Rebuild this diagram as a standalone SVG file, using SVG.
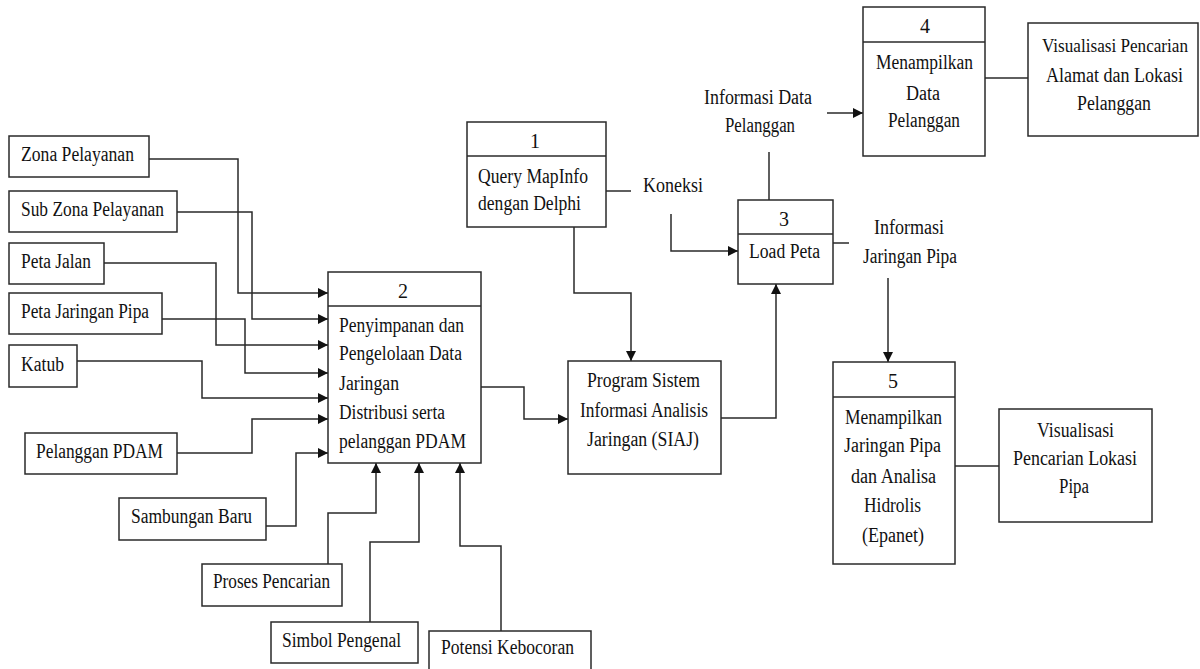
<svg xmlns="http://www.w3.org/2000/svg" width="1200" height="669" viewBox="0 0 1200 669">
<style>
.b{fill:#fff;stroke:#2a2a2a;stroke-width:1.5}
.d{stroke:#2a2a2a;stroke-width:1.5;fill:none}
.c path{fill:none;stroke:#2a2a2a;stroke-width:1.5}
text{font-family:"Liberation Serif","Times New Roman",serif;font-size:20px;fill:#111}
.m{text-anchor:middle}
</style>
<defs>
<marker id="ah" viewBox="0 0 10 10" refX="10" refY="5" markerWidth="10" markerHeight="10" markerUnits="userSpaceOnUse" orient="auto"><path d="M0,0 L10,5 L0,10 z" fill="#111"/></marker>
</defs>
<rect width="1200" height="669" fill="#fff"/>
<g class="c" id="connectors">
<path d="M149,159 H238 V293 H328" marker-end="url(#ah)"/>
<path d="M177,212 H252 V319 H328" marker-end="url(#ah)"/>
<path d="M104,263 H216 V345 H328" marker-end="url(#ah)"/>
<path d="M162,319 H245 V373 H328" marker-end="url(#ah)"/>
<path d="M77,361 H202 V398 H328" marker-end="url(#ah)"/>
<path d="M177,453 H252 V419 H328" marker-end="url(#ah)"/>
<path d="M266,526 H296 V453 H328" marker-end="url(#ah)"/>
<path d="M328,564 V513 H376 V463" marker-end="url(#ah)"/>
<path d="M370,622 V542 H419 V463" marker-end="url(#ah)"/>
<path d="M501,631 V546 H460 V463" marker-end="url(#ah)"/>
<path d="M481,387 H524 V419 H568" marker-end="url(#ah)"/>
<path d="M574,227 V293 H631 V361" marker-end="url(#ah)"/>
<path d="M721,418 H776 V284" marker-end="url(#ah)"/>
<path d="M606,191 H631"/>
<path d="M671,214 V251 H738" marker-end="url(#ah)"/>
<path d="M769,200 V152"/>
<path d="M827,113 H863" marker-end="url(#ah)"/>
<path d="M985,78 H1028"/>
<path d="M833,243 H849"/>
<path d="M888,278 V362" marker-end="url(#ah)"/>
<path d="M955,466 H999"/>
</g>
<g id="zona"><rect class="b" x="9" y="136" width="140" height="41"/><text x="21" y="161" textLength="113" lengthAdjust="spacingAndGlyphs">Zona Pelayanan</text></g>
<g id="subzona"><rect class="b" x="9" y="191" width="168" height="41"/><text x="21" y="216" textLength="143" lengthAdjust="spacingAndGlyphs">Sub Zona Pelayanan</text></g>
<g id="petajalan"><rect class="b" x="9" y="243" width="95" height="41"/><text x="21" y="268" textLength="70" lengthAdjust="spacingAndGlyphs">Peta Jalan</text></g>
<g id="petapipa"><rect class="b" x="9" y="293" width="153" height="41"/><text x="21" y="318" textLength="128" lengthAdjust="spacingAndGlyphs">Peta Jaringan Pipa</text></g>
<g id="katub"><rect class="b" x="9" y="345" width="68" height="42"/><text x="21" y="371" textLength="43" lengthAdjust="spacingAndGlyphs">Katub</text></g>
<g id="pelangganpdam"><rect class="b" x="25" y="433" width="152" height="41"/><text x="36" y="458" textLength="127" lengthAdjust="spacingAndGlyphs">Pelanggan PDAM</text></g>
<g id="sambungan"><rect class="b" x="119" y="498" width="147" height="42"/><text x="131" y="523" textLength="121" lengthAdjust="spacingAndGlyphs">Sambungan Baru</text></g>
<g id="proses"><rect class="b" x="202" y="564" width="140" height="42"/><text x="213" y="588" textLength="117" lengthAdjust="spacingAndGlyphs">Proses Pencarian</text></g>
<g id="simbol"><rect class="b" x="271" y="622" width="147" height="41"/><text x="282" y="647" textLength="119" lengthAdjust="spacingAndGlyphs">Simbol Pengenal</text></g>
<g id="potensi"><rect class="b" x="429" y="631" width="162" height="41"/><text x="441" y="654" textLength="133" lengthAdjust="spacingAndGlyphs">Potensi Kebocoran</text></g>
<g id="p2"><rect class="b" x="328" y="272" width="153" height="191"/><path class="d" d="M328,306 H481"/>
<text class="m" x="403" y="298">2</text>
<text x="339" y="332" textLength="125" lengthAdjust="spacingAndGlyphs">Penyimpanan dan</text>
<text x="339" y="360" textLength="123" lengthAdjust="spacingAndGlyphs">Pengelolaan Data</text>
<text x="339" y="390" textLength="60" lengthAdjust="spacingAndGlyphs">Jaringan</text>
<text x="339" y="419" textLength="106" lengthAdjust="spacingAndGlyphs">Distribusi serta</text>
<text x="339" y="448" textLength="127" lengthAdjust="spacingAndGlyphs">pelanggan PDAM</text></g>
<g id="p1"><rect class="b" x="467" y="122" width="139" height="105"/><path class="d" d="M467,156 H606"/>
<text class="m" x="535" y="148">1</text>
<text x="478" y="183" textLength="110" lengthAdjust="spacingAndGlyphs">Query MapInfo</text>
<text x="478" y="210" textLength="103" lengthAdjust="spacingAndGlyphs">dengan Delphi</text></g>
<g id="koneksi"><text x="643" y="192" textLength="60" lengthAdjust="spacingAndGlyphs">Koneksi</text></g>
<g id="siaj"><rect class="b" x="568" y="361" width="153" height="113"/>
<text x="587" y="387" textLength="113" lengthAdjust="spacingAndGlyphs">Program Sistem</text>
<text x="580" y="417" textLength="128" lengthAdjust="spacingAndGlyphs">Informasi Analisis</text>
<text x="587" y="446" textLength="112" lengthAdjust="spacingAndGlyphs">Jaringan (SIAJ)</text></g>
<g id="p3"><rect class="b" x="738" y="200" width="95" height="84"/><path class="d" d="M738,234 H833"/>
<text class="m" x="784" y="226">3</text>
<text x="749" y="258" textLength="71" lengthAdjust="spacingAndGlyphs">Load Peta</text></g>
<g id="infodata"><text x="704" y="104" textLength="108" lengthAdjust="spacingAndGlyphs">Informasi Data</text>
<text x="725" y="132" textLength="70" lengthAdjust="spacingAndGlyphs">Pelanggan</text></g>
<g id="p4"><rect class="b" x="863" y="7" width="122" height="149"/><path class="d" d="M863,42 H985"/>
<text class="m" x="925" y="33">4</text>
<text x="876" y="69" textLength="97" lengthAdjust="spacingAndGlyphs">Menampilkan</text>
<text x="906" y="100" textLength="34" lengthAdjust="spacingAndGlyphs">Data</text>
<text x="888" y="127" textLength="72" lengthAdjust="spacingAndGlyphs">Pelanggan</text></g>
<g id="vis1"><rect class="b" x="1028" y="23" width="170" height="113"/>
<text x="1042" y="52" style="font-size:18px" textLength="146" lengthAdjust="spacingAndGlyphs">Visualisasi Pencarian</text>
<text x="1046" y="82" textLength="137" lengthAdjust="spacingAndGlyphs">Alamat dan Lokasi</text>
<text x="1077" y="110" textLength="74" lengthAdjust="spacingAndGlyphs">Pelanggan</text></g>
<g id="infopipa"><text x="874" y="234" textLength="70" lengthAdjust="spacingAndGlyphs">Informasi</text>
<text x="863" y="263" textLength="94" lengthAdjust="spacingAndGlyphs">Jaringan Pipa</text></g>
<g id="p5"><rect class="b" x="833" y="362" width="122" height="202"/><path class="d" d="M833,397 H955"/>
<text class="m" x="893" y="388">5</text>
<text x="845" y="424" textLength="97" lengthAdjust="spacingAndGlyphs">Menampilkan</text>
<text x="844" y="452" textLength="97" lengthAdjust="spacingAndGlyphs">Jaringan Pipa</text>
<text x="851" y="483" textLength="85" lengthAdjust="spacingAndGlyphs">dan Analisa</text>
<text x="864" y="512" textLength="57" lengthAdjust="spacingAndGlyphs">Hidrolis</text>
<text x="862" y="542" textLength="62" lengthAdjust="spacingAndGlyphs">(Epanet)</text></g>
<g id="vis2"><rect class="b" x="999" y="409" width="153" height="113"/>
<text x="1037" y="437" textLength="77" lengthAdjust="spacingAndGlyphs">Visualisasi</text>
<text x="1013" y="465" textLength="124" lengthAdjust="spacingAndGlyphs">Pencarian Lokasi</text>
<text x="1059" y="493" textLength="30" lengthAdjust="spacingAndGlyphs">Pipa</text></g>
</svg>
